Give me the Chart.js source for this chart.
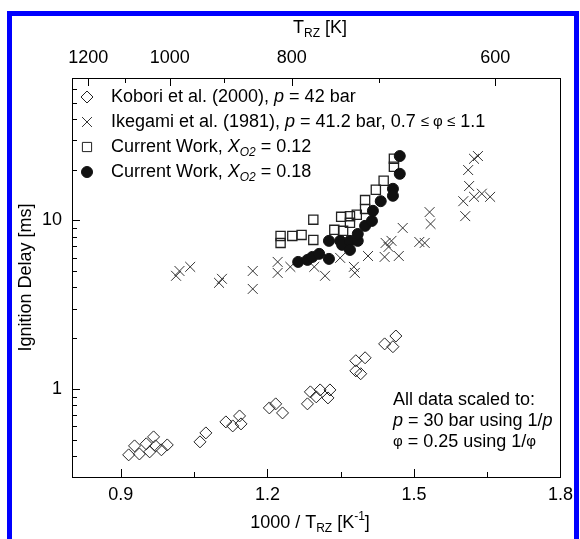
<!DOCTYPE html>
<html>
<head>
<meta charset="utf-8">
<script src="https://cdn.jsdelivr.net/npm/chart.js@4.4.1/dist/chart.umd.min.js"></script>
<style>
    html, body { margin: 0; padding: 0; background: #fff; }
    #wrap { position: relative; width: 580px; height: 539px; overflow: hidden; }
    #wrap canvas { position: absolute; left: 0; top: 0; }
    #frame { position: absolute; left: 7px; top: 11px; width: 572px; height: 600px; box-sizing: border-box; border: 5px solid #0000ff; pointer-events: none; }
</style>
</head>
<body>
<div id="wrap">
    <canvas id="delayChart" width="580" height="539"></canvas>
    <div id="frame"></div>
</div>
<script>
// Kobori et al. (2000), p = 42 bar
var koboriX = [0.916, 0.928, 0.938, 0.952, 0.959, 0.967, 0.971, 0.983, 0.995, 1.062, 1.074, 1.115, 1.129, 1.143, 1.146, 1.204, 1.217, 1.231, 1.282, 1.288, 1.300, 1.308, 1.324, 1.328, 1.381, 1.400, 1.381, 1.391, 1.440, 1.457, 1.463];
var koboriY = [0.406, 0.459, 0.411, 0.472, 0.423, 0.519, 0.459, 0.435, 0.465, 0.485, 0.548, 0.637, 0.603, 0.691, 0.620, 0.771, 0.815, 0.720, 0.815, 0.960, 0.897, 0.986, 0.884, 0.986, 1.47, 1.53, 1.28, 1.23, 1.85, 1.78, 2.06];

// Ikegami et al. (1981), p = 41.2 bar
var ikegamiX = [1.013, 1.020, 1.042, 1.101, 1.107, 1.170, 1.170, 1.221, 1.221, 1.247, 1.296, 1.318, 1.349, 1.377, 1.379, 1.406, 1.442, 1.448, 1.454, 1.440, 1.469, 1.477, 1.511, 1.522, 1.532, 1.534, 1.601, 1.605, 1.611, 1.623, 1.631, 1.613, 1.623, 1.639, 1.656];
var ikegamiY = [4.69, 5.01, 5.30, 4.26, 4.50, 5.01, 3.92, 5.67, 4.88, 5.30, 5.30, 4.69, 5.99, 5.30, 4.88, 6.15, 7.35, 6.96, 7.56, 6.07, 6.15, 9.02, 7.45, 7.35, 11.2, 9.53, 13.0, 10.6, 19.9, 23.2, 24.1, 16.0, 13.8, 14.4, 13.8];

// Current Work, X_O2 = 0.12
var cw12X = [1.227, 1.227, 1.251, 1.270, 1.294, 1.294, 1.337, 1.355, 1.351, 1.369, 1.383, 1.369, 1.400, 1.400, 1.422, 1.438, 1.459, 1.459];
var cw12Y = [8.09, 7.35, 8.09, 8.20, 10.1, 7.66, 8.79, 8.67, 10.5, 10.6, 10.8, 9.67, 13.2, 11.7, 15.2, 17.2, 23.2, 20.8];

// Current Work, X_O2 = 0.18
var cw18X = [1.263, 1.282, 1.292, 1.306, 1.326, 1.326, 1.349, 1.353, 1.369, 1.369, 1.385, 1.385, 1.400, 1.414, 1.416, 1.432, 1.457, 1.457, 1.471, 1.471];
var cw18Y = [5.67, 5.83, 6.07, 6.33, 5.91, 7.56, 7.56, 7.16, 7.56, 6.68, 7.56, 8.31, 9.28, 9.93, 11.4, 13.0, 15.4, 14.0, 24.1, 18.9];

// ticks
var xTicks = [0.9, 1.05, 1.2, 1.35, 1.5, 1.65, 1.8];
var xLabels = [0.9, 1.2, 1.5, 1.8];
var tempTicks = [1200, 1100, 1000, 900, 800, 700, 600];
var tempLabels = [1200, 1000, 800, 600];
var yTicks = [0.3, 0.4, 0.5, 0.6, 0.7, 0.8, 0.9, 1, 2, 3, 4, 5, 6, 7, 8, 9, 10, 20, 30, 40, 50, 60, 70];
var yLabels = [1, 10];

var FAM = '"Liberation Sans", Arial, sans-serif';

function pairs(xs, ys) {
    return xs.map(function (x, i) { return { x: x, y: ys[i] }; });
}
function near(list, v) {
    return list.some(function (l) { return Math.abs(l - v) < 1e-6; });
}

// texto con cursiva / subindices
function fontOf(k) {
    if (k === 'i') return 'italic 18px ' + FAM;
    if (k === 'isub') return 'italic 12px ' + FAM;
    if (k === 'sub' || k === 'sup') return '12px ' + FAM;
    if (k === 'sym') return '15px ' + FAM;
    return '18px ' + FAM;
}
function drawRich(ctx, x, y, parts, center) {
    var w = 0;
    parts.forEach(function (p) { ctx.font = fontOf(p[1]); w += ctx.measureText(p[0]).width; });
    var cx = center ? x - w / 2 : x;
    parts.forEach(function (p) {
        ctx.font = fontOf(p[1]);
        var dy = (p[1] === 'sub' || p[1] === 'isub') ? 6 : (p[1] === 'sup' ? -6 : 0);
        ctx.fillText(p[0], cx, y + dy);
        cx += ctx.measureText(p[0]).width;
    });
}

var decorations = {
    id: 'decorations',
    afterDraw: function (chart) {
        var ctx = chart.ctx, a = chart.chartArea, s = chart.scales;
        ctx.save();
        ctx.strokeStyle = '#000';
        ctx.lineWidth = 1;
        // marco del grafico
        ctx.strokeRect(Math.round(a.left) + 0.5, Math.round(a.top) + 0.5, Math.round(a.right - a.left), Math.round(a.bottom - a.top));
        ctx.beginPath();
        s.x.ticks.forEach(function (t) {
            var px = Math.round(s.x.getPixelForValue(t.value)) + 0.5;
            var len = near(xLabels, t.value) ? 8 : 5;
            ctx.moveTo(px, a.bottom); ctx.lineTo(px, a.bottom - len);
        });
        s.x2.ticks.forEach(function (t) {
            var px = Math.round(s.x2.getPixelForValue(t.value)) + 0.5;
            var len = near(tempLabels, Math.round(1000 / t.value)) ? 8 : 5;
            ctx.moveTo(px, a.top); ctx.lineTo(px, a.top + len);
        });
        s.y.ticks.forEach(function (t) {
            var py = Math.round(s.y.getPixelForValue(t.value)) + 0.5;
            var len = near(yLabels, t.value) ? 8 : 5;
            ctx.moveTo(a.left, py); ctx.lineTo(a.left + len, py);
        });
        ctx.stroke();

        ctx.fillStyle = '#000';
        ctx.textBaseline = 'middle';
        ctx.textAlign = 'left';

        // titulos de ejes
        drawRich(ctx, 310, 523, [['1000 / T', 'n'], ['RZ', 'sub'], [' [K', 'n'], ['-1', 'sup'], [']', 'n']], true);
        drawRich(ctx, 320, 28, [['T', 'n'], ['RZ', 'sub'], [' [K]', 'n']], true);
        ctx.save();
        ctx.translate(26, (a.top + a.bottom) / 2);
        ctx.rotate(-Math.PI / 2);
        drawRich(ctx, 0, 0, [['Ignition Delay [ms]', 'n']], true);
        ctx.restore();

        // leyenda
        var rows = [
            [['Kobori et al. (2000), ', 'n'], ['p', 'i'], [' = 42 bar', 'n']],
            [['Ikegami et al. (1981), ', 'n'], ['p', 'i'], [' = 41.2 bar, 0.7 ', 'n'], ['\u2264 \u03c6 \u2264', 'sym'], [' 1.1', 'n']],
            [['Current Work, ', 'n'], ['X', 'i'], ['O2', 'isub'], [' = 0.12', 'n']],
            [['Current Work, ', 'n'], ['X', 'i'], ['O2', 'isub'], [' = 0.18', 'n']]
        ];
        rows.forEach(function (parts, i) {
            var ds = chart.data.datasets[i];
            var y = 97 + i * 25;
            ctx.save();
            ctx.strokeStyle = ds.borderColor;
            ctx.fillStyle = ds.backgroundColor;
            ctx.lineWidth = 1;
            Chart.helpers.drawPoint(ctx, { pointStyle: ds.pointStyle, radius: ds.pointRadius, borderWidth: 1, rotation: 0 }, 87, y);
            ctx.restore();
            ctx.fillStyle = '#000';
            drawRich(ctx, 111, y, parts, false);
        });

        // nota
        drawRich(ctx, 393, 400, [['All data scaled to:', 'n']], false);
        drawRich(ctx, 393, 421, [['p', 'i'], [' = 30 bar using 1/', 'n'], ['p', 'i']], false);
        drawRich(ctx, 393, 442, [['\u03c6', 'sym'], [' = 0.25 using 1/', 'n'], ['\u03c6', 'sym']], false);
        ctx.restore();
    }
};

var tickFont = { size: 18, family: FAM };

var ctx = document.getElementById('delayChart').getContext('2d');
var delayChart = new Chart(ctx, {
    type: 'scatter',
    data: {
        datasets: [
            {
                label: 'Kobori et al. (2000)',
                data: pairs(koboriX, koboriY),
                pointStyle: 'rectRot',
                pointRadius: 6,
                borderWidth: 1,
                borderColor: '#222',
                backgroundColor: 'rgba(0,0,0,0)',
                order: 3
            },
            {
                label: 'Ikegami et al. (1981)',
                data: pairs(ikegamiX, ikegamiY),
                pointStyle: 'crossRot',
                pointRadius: 7,
                borderWidth: 1,
                borderColor: '#333',
                backgroundColor: 'rgba(0,0,0,0)',
                order: 2
            },
            {
                label: 'Current Work, X_O2 = 0.12',
                data: pairs(cw12X, cw12Y),
                pointStyle: 'rect',
                pointRadius: 6.5,
                borderWidth: 1.3,
                borderColor: '#222',
                backgroundColor: 'rgba(0,0,0,0)',
                order: 1
            },
            {
                label: 'Current Work, X_O2 = 0.18',
                data: pairs(cw18X, cw18Y),
                pointStyle: 'circle',
                pointRadius: 5.5,
                borderWidth: 1,
                borderColor: '#111',
                backgroundColor: '#111',
                order: 0
            }
        ]
    },
    options: {
        responsive: false,
        animation: false,
        layout: { padding: { left: 0, right: 16, top: 0, bottom: 0 } },
        plugins: {
            legend: { display: false },
            tooltip: { enabled: false }
        },
        elements: { point: { hoverRadius: 6 } },
        scales: {
            x: {
                type: 'linear',
                position: 'bottom',
                min: 0.8,
                max: 1.8,
                grid: { display: false, drawTicks: false },
                border: { display: false },
                afterBuildTicks: function (axis) { axis.ticks = xTicks.map(function (v) { return { value: v }; }); },
                afterFit: function (axis) { axis.height = 62; },
                ticks: {
                    autoSkip: false,
                    maxRotation: 0,
                    padding: 7,
                    color: '#000',
                    font: tickFont,
                    callback: function (v) { return near(xLabels, v) ? v.toFixed(1) : ''; }
                }
            },
            x2: {
                type: 'linear',
                position: 'top',
                min: 0.8,
                max: 1.8,
                grid: { display: false, drawTicks: false },
                border: { display: false },
                afterBuildTicks: function (axis) { axis.ticks = tempTicks.map(function (t) { return { value: 1000 / t }; }); },
                afterFit: function (axis) { axis.height = 78; },
                ticks: {
                    autoSkip: false,
                    maxRotation: 0,
                    padding: 9,
                    color: '#000',
                    font: tickFont,
                    callback: function (v) { var t = Math.round(1000 / v); return near(tempLabels, t) ? String(t) : ''; }
                }
            },
            y: {
                type: 'logarithmic',
                min: 0.3,
                max: 70,
                grid: { display: false, drawTicks: false },
                border: { display: false },
                afterBuildTicks: function (axis) { axis.ticks = yTicks.map(function (v) { return { value: v }; }); },
                afterFit: function (axis) { axis.width = 72; },
                ticks: {
                    autoSkip: false,
                    padding: 10,
                    color: '#000',
                    font: tickFont,
                    callback: function (v) { return near(yLabels, v) ? String(v) : ''; }
                }
            }
        }
    },
    plugins: [decorations]
});
</script>
</body>
</html>
